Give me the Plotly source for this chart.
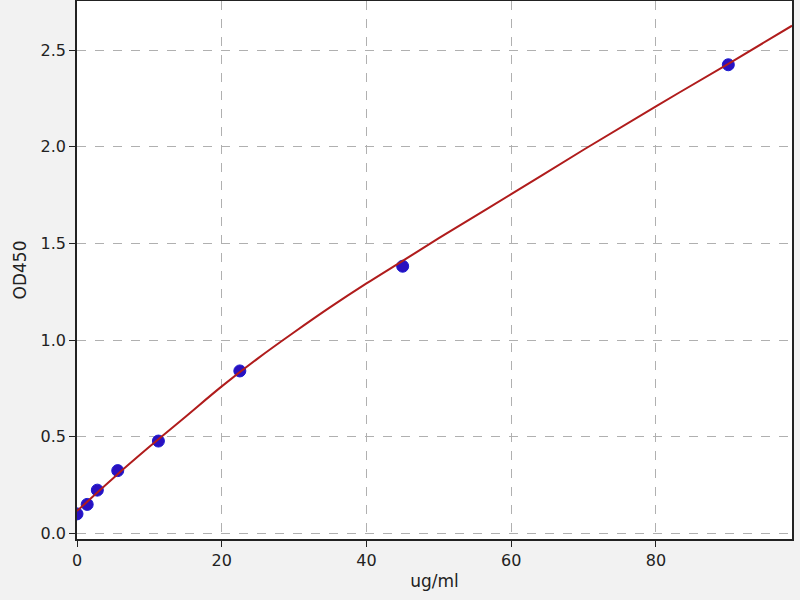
"""Courbe standard OD450 en fonction de la concentration (ug/ml)."""

from plotly.graph_objects import Scatter, Figure

# points mesurés
conc = [0, 1.41, 2.81, 5.63, 11.25, 22.5, 45, 90]
od = [0.100, 0.149, 0.223, 0.324, 0.477, 0.84, 1.382, 2.425]

# courbe ajustée
fit_x = [0, 5, 10, 15, 20, 25, 30, 35, 40, 45, 50, 60, 70, 80, 90, 98.8]
fit_y = [0.115, 0.285, 0.447, 0.603, 0.76, 0.905, 1.04, 1.17, 1.293, 1.41,
         1.527, 1.755, 1.985, 2.21, 2.43, 2.627]

x_ticks = [0, 20, 40, 60, 80]
y_ticks = [0.0, 0.5, 1.0, 1.5, 2.0, 2.5]


def main():
    fig = Figure()
    fig.add_trace(Scatter(x=conc, y=od, mode="markers",
                          marker=dict(color="#2a10c0", size=12,
                                      line=dict(color="#1a1ad0", width=1))))
    fig.add_trace(Scatter(x=fit_x, y=fit_y, mode="lines", line_shape="spline",
                          line=dict(color="#b01c1c", width=2)))

    axis = dict(showline=True, linecolor="#222", linewidth=1.5, mirror=True,
                ticks="outside", ticklen=6, tickcolor="#222", automargin=False,
                showgrid=True, gridcolor="#b0b0b0", griddash="dash", gridwidth=1,
                zeroline=False, tickfont=dict(size=16, color="#222"))
    fig.update_layout(
        width=800, height=600,
        margin=dict(l=77, r=8, t=1, b=61),
        paper_bgcolor="#f2f2f2", plot_bgcolor="white",
        font=dict(family="DejaVu Sans", color="#222"),
        showlegend=False,
        xaxis=dict(axis, range=[0, 98.8], tickvals=x_ticks,
                   title=dict(text="ug/ml", font=dict(size=17), standoff=6)),
        yaxis=dict(axis, range=[-0.03, 2.755], tickvals=y_ticks, tickformat=".1f",
                   title=dict(text="OD450", font=dict(size=17), standoff=10)),
    )
    fig.write_html("out.html", config={"displayModeBar": False},
                   post_script="document.body.style.margin='0';")


if __name__ == "__main__":
    main()
